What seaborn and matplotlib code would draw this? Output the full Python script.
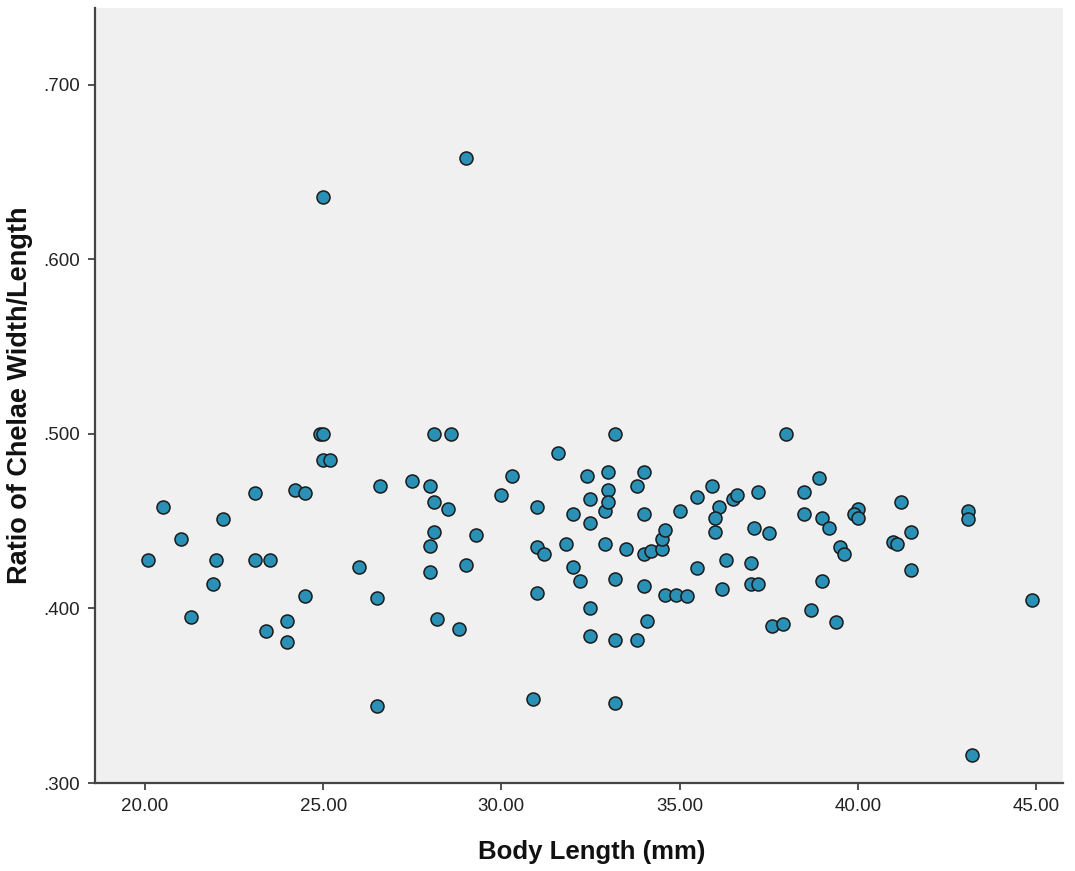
import pandas as pd
import seaborn as sns
import matplotlib
matplotlib.use("Agg")
import matplotlib.pyplot as plt

# Body length (mm) and chelae width/length ratio
body_length = [
    20.1, 20.5, 21.0, 21.3, 21.9, 22.0, 22.2, 23.1, 23.1, 23.5,
    23.4, 24.0, 24.0, 24.2, 24.5, 24.5, 24.9, 25.0, 25.0, 25.2,
    26.0, 26.5, 26.5, 26.6, 27.5, 28.0, 28.1, 28.1, 28.1, 28.0,
    28.0, 28.2, 28.6, 28.5, 29.3, 29.0, 28.8, 30.0, 30.3, 31.6,
    31.0, 31.0, 31.2, 31.0, 30.9, 31.8, 32.0, 32.0, 32.2, 32.4,
    32.5, 32.5, 32.5, 32.5, 32.9, 32.9, 33.0, 33.0, 33.0, 33.2,
    33.2, 33.2, 33.2, 33.5, 33.8, 33.8, 34.0, 34.0, 34.0, 34.0,
    34.1, 34.2, 34.5, 34.5, 34.6, 34.6, 34.9, 35.2, 35.0, 35.5,
    35.5, 35.9, 36.1, 36.0, 36.0, 36.3, 36.2, 36.5, 36.6, 38.0,
    38.9, 38.5, 37.2, 38.5, 39.0, 39.2, 37.1, 37.5, 37.0, 37.0,
    37.2, 37.6, 37.9, 38.7, 39.4, 39.0, 39.5, 39.6, 40.0, 39.9,
    40.0, 41.2, 41.0, 41.1, 41.5, 41.5, 43.1, 43.1, 43.2, 44.9,
    25.0, 29.0,
]
chelae_ratio = [
    .428, .458, .440, .395, .414, .428, .451, .466, .428, .428,
    .387, .393, .381, .468, .466, .407, .500, .500, .485, .485,
    .424, .406, .344, .470, .473, .470, .500, .461, .444, .436,
    .421, .394, .500, .457, .442, .425, .388, .465, .476, .489,
    .458, .435, .431, .409, .348, .437, .454, .424, .416, .476,
    .463, .449, .400, .384, .437, .456, .478, .468, .461, .500,
    .417, .382, .346, .434, .470, .382, .478, .454, .431, .413,
    .393, .433, .434, .440, .445, .408, .408, .407, .456, .464,
    .423, .470, .458, .452, .444, .428, .411, .463, .465, .500,
    .475, .467, .467, .454, .452, .446, .446, .443, .426, .414,
    .414, .390, .391, .399, .392, .416, .435, .431, .457, .454,
    .452, .461, .438, .437, .444, .422, .456, .451, .316, .405,
    .636, .658,
]
x_ticks = [20, 25, 30, 35, 40, 45]
y_ticks = [.300, .400, .500, .600, .700]

df = pd.DataFrame({"Body Length (mm)": body_length,
                   "Ratio of Chelae Width/Length": chelae_ratio})

sns.set_style("ticks")
plt.rcParams["font.family"] = ["Liberation Sans", "DejaVu Sans"]

fig = plt.figure(figsize=(10.75, 8.71), dpi=100)
ax = fig.add_axes([0.0884, 0.101, 0.9005, 0.8898])
ax.set_facecolor("#F0F0F0")

sns.scatterplot(data=df, x="Body Length (mm)", y="Ratio of Chelae Width/Length",
                ax=ax, s=88, color="#2A90B6", edgecolor="#1A1A1A", linewidth=1.1,
                alpha=1, zorder=3)

ax.set_xlim(18.6, 45.76)
ax.set_ylim(0.300, 0.744)
ax.set_xticks(x_ticks)
ax.set_xticklabels([f"{t:.2f}" for t in x_ticks])
ax.set_yticks(y_ticks)
ax.set_yticklabels([f"{t:.3f}"[1:] for t in y_ticks])
ax.tick_params(axis="both", direction="out", length=5, width=1.2,
               color="#333333", labelsize=13.5, labelcolor="#222222", pad=6)

for side in ["top", "right"]:
    ax.spines[side].set_visible(False)
for side in ["left", "bottom"]:
    ax.spines[side].set_color("#444444")
    ax.spines[side].set_linewidth(1.6)

ax.set_xlabel("Body Length (mm)", fontsize=18.5, fontweight="bold", color="#111111")
ax.set_ylabel("Ratio of Chelae Width/Length", fontsize=19.5, fontweight="bold",
              color="#111111")
# SPSS puts the x title a little right of centre
ax.xaxis.set_label_coords(0.513, -0.073)
ax.yaxis.set_label_coords(-0.064, 0.5)

fig.savefig("out.png", dpi=100, facecolor="white")
